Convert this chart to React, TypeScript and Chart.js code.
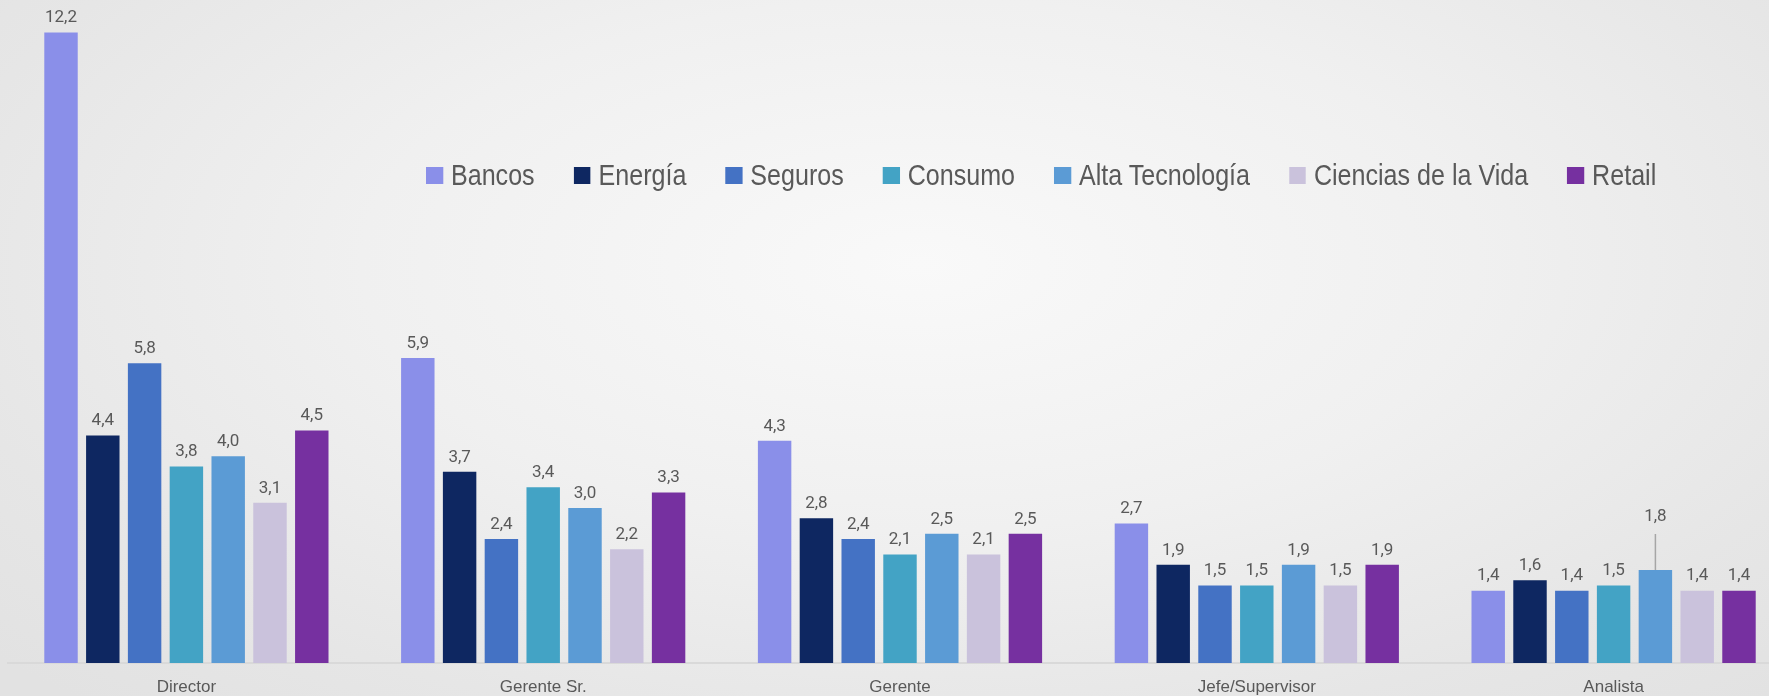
import React, { useEffect, useRef } from "react";
import { Chart, registerables } from "chart.js";

Chart.register(...registerables);

const categories = ["Director", "Gerente Sr.", "Gerente", "Jefe/Supervisor", "Analista"];
const seriesNames = ["Bancos", "Energía", "Seguros", "Consumo", "Alta Tecnología", "Ciencias de la Vida", "Retail"];
const seriesColors = ["#8A8FE9", "#0E2761", "#4472C4", "#43A3C5", "#5B9BD5", "#CAC2DC", "#7630A0"];

const bancos = [12.2, 5.9, 4.3, 2.7, 1.4];
const energia = [4.4, 3.7, 2.8, 1.9, 1.6];
const seguros = [5.8, 2.4, 2.4, 1.5, 1.4];
const consumo = [3.8, 3.4, 2.1, 1.5, 1.5];
const altaTecnologia = [4.0, 3.0, 2.5, 1.9, 1.8];
const cienciasVida = [3.1, 2.2, 2.1, 1.5, 1.4];
const retail = [4.5, 3.3, 2.5, 1.9, 1.4];

const seriesValues = [bancos, energia, seguros, consumo, altaTecnologia, cienciasVida, retail];

const labelColor = "#595959";
const textFont = "'Liberation Sans', Arial, sans-serif";

const dataLabelPlugin = {
  id: "dataLabels",
  afterDatasetsDraw(chart: any) {
    const ctx = chart.ctx;
    ctx.save();
    ctx.font = "17px Roboto";
    ctx.fillStyle = labelColor;
    ctx.textAlign = "center";
    ctx.textBaseline = "bottom";
    chart.data.datasets.forEach((ds: any, di: number) => {
      const meta = chart.getDatasetMeta(di);
      meta.data.forEach((el: any, i: number) => {
        const v = ds.data[i];
        const txt = v.toFixed(1).replace(".", ",");
        // leader-line callout for the Analista / Alta Tecnología label
        if (di === 4 && i === 4) {
          const ly = el.y - 45;
          ctx.fillText(txt, el.x, ly);
          ctx.strokeStyle = "#A6A6A6";
          ctx.lineWidth = 1.5;
          ctx.beginPath();
          ctx.moveTo(el.x, ly + 9);
          ctx.lineTo(el.x, el.y);
          ctx.stroke();
        } else {
          ctx.fillText(txt, el.x, el.y - 6);
        }
      });
    });
    ctx.restore();
  },
};

export default function App() {
  const canvasRef = useRef<HTMLCanvasElement | null>(null);

  useEffect(() => {
    if (!canvasRef.current) return;
    const chart = new Chart(canvasRef.current, {
      type: "bar",
      data: {
        labels: categories,
        datasets: seriesNames.map((name, i) => ({
          label: name,
          data: seriesValues[i],
          backgroundColor: seriesColors[i],
          borderWidth: 0,
          categoryPercentage: 0.82,
          barPercentage: 0.8,
        })),
      },
      options: {
        responsive: false,
        devicePixelRatio: 1,
        animation: false,
        layout: { padding: { left: 8, right: 8, top: 17, bottom: 0 } },
        plugins: {
          legend: { display: false },
          tooltip: { enabled: false },
        },
        scales: {
          x: {
            grid: { display: false, drawTicks: false },
            border: { display: true, color: "#D9D9D9", width: 2 },
            afterFit(scale: any) {
              scale.height = 33;
            },
            ticks: {
              padding: 14,
              color: labelColor,
              font: { family: textFont, size: 17 },
            },
          },
          y: {
            display: false,
            min: 0,
            max: 12.5,
          },
        },
      },
      plugins: [dataLabelPlugin],
    });
    return () => chart.destroy();
  }, []);

  return (
    <div
      style={{
        position: "fixed",
        left: 0,
        top: 0,
        width: 1769,
        height: 696,
        overflow: "hidden",
        background:
          "radial-gradient(ellipse 70% 85% at 52% 38%, #F9F9F9 0%, #F0F0F0 45%, #E6E6E6 80%, #E2E2E2 100%)",
      }}
    >
      <canvas
        ref={canvasRef}
        width={1800}
        height={696}
        style={{ position: "absolute", left: 0, top: 0, width: 1800, height: 696 }}
      />
      <div
        style={{
          position: "absolute",
          left: 426,
          top: 160,
          height: 30,
          display: "flex",
          alignItems: "center",
          fontFamily: textFont,
          fontSize: 29,
          lineHeight: "30px",
          color: labelColor,
          whiteSpace: "nowrap",
          transform: "scaleX(0.865)",
          transformOrigin: "0 50%",
        }}
      >
        {seriesNames.map((name, i) => (
          <div key={name} style={{ display: "flex", alignItems: "center", marginRight: 45 }}>
            <span
              style={{
                display: "inline-block",
                width: 19.7,
                height: 17,
                background: seriesColors[i],
                marginRight: 9.2,
              }}
            />
            <span>{name}</span>
          </div>
        ))}
      </div>
    </div>
  );
}
